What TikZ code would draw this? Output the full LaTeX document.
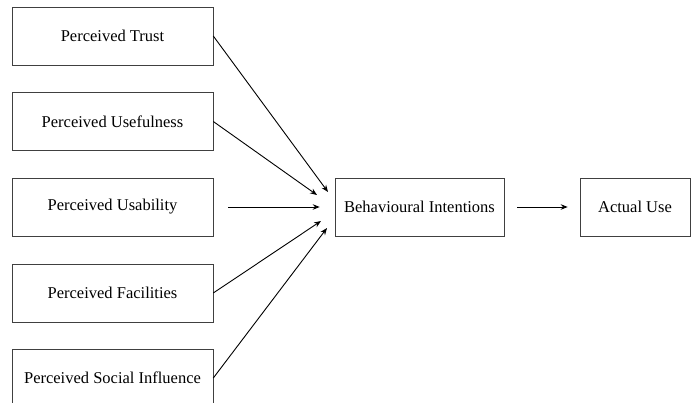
\documentclass[tikz,border=0pt]{standalone}
\usepackage{fontspec}
\setmainfont{Liberation Serif}
\usetikzlibrary{
    arrows.meta,
    positioning
}

\begin{document}
\begin{tikzpicture}[x=1pt, y=-1pt,
        factor/.style={draw=black!75, line width=0.6pt, minimum height=58pt, inner sep=0pt, font=\fontsize{16.5}{20}\selectfont},
        link/.style={-{Stealth[length=7pt, width=5.5pt]}, line width=0.9pt}]
                        \useasboundingbox (0, 0) rectangle (691, 402);
                        \clip (0, 0) rectangle (691, 402);

                        \node[factor, minimum width=201pt] (trust) at (112.5, 36) {Perceived Trust};
                        \node[factor, minimum width=201pt] (useful) at (112.5, 121.5) {Perceived Usefulness};
                        \node[factor, minimum width=201pt] (usable) at (112.5, 207) {Perceived Usability};
                        \node[factor, minimum width=201pt] (facil) at (112.5, 293) {Perceived Facilities};
                        \node[factor, minimum width=201pt] (social) at (112.5, 378) {Perceived Social Influence};

                        \node[factor, minimum width=169pt] (intent) at (419.5, 207) {Behavioural Intentions};
                        \node[factor, minimum width=110pt] (use) at (635, 207) {Actual Use};

                        \coordinate (in1) at (328, 192);
                        \coordinate (in2) at (317, 195);
                        \coordinate (in4) at (321, 221);
                        \coordinate (in5) at (327, 228);

                        \draw
                        (trust.east) edge[link] (in1)
                        (useful.east) edge[link] (in2)
                        (usable.east) edge[link, shorten <=15pt, shorten >=15pt] (intent.west)
                        (facil.east) edge[link] (in4)
                        (social.east) edge[link] (in5)
                        (intent.east) edge[link, shorten <=13pt, shorten >=12pt] (use.west);
                    \end{tikzpicture}
\end{document}
